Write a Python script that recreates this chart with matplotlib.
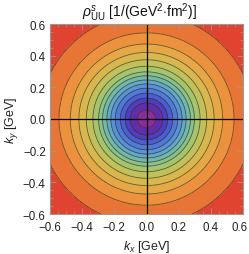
import numpy as np
import matplotlib
matplotlib.use("Agg")
import matplotlib.pyplot as plt
import matplotlib.transforms as mtransforms
from matplotlib.ticker import MultipleLocator

plt.rcParams['font.family'] = ['Liberation Sans', 'DejaVu Sans']
plt.rcParams['mathtext.fontset'] = 'custom'
plt.rcParams['mathtext.rm'] = 'Liberation Sans'
plt.rcParams['mathtext.it'] = 'Liberation Sans:italic'

# model parameters
peak = 1.0          # normalised density at k = 0
width = 0.322       # Gaussian width [GeV]
# contour levels (read from the ring radii)
levels = [0.0143, 0.0575, 0.115, 0.182, 0.259, 0.343, 0.425, 0.487,
          0.557, 0.623, 0.695, 0.774, 0.845, 0.906, 0.970]
band_colors = ['#E04430', '#E87436', '#EC923E', '#E6A846', '#D8B84E',
               '#C2C05A', '#A6C46C', '#8AC288', '#72BAA6', '#62AAC6',
               '#5694D6', '#4E7AD8', '#4A5ED0', '#4C40C0', '#602EAA',
               '#8C2C98']
ticks = [-0.6, -0.4, -0.2, 0.0, 0.2, 0.4, 0.6]
tick_labels = ['\u22120.6', '\u22120.4', '\u22120.2', '0.0', '0.2', '0.4', '0.6']

k = np.linspace(-0.6, 0.6, 401)
KX, KY = np.meshgrid(k, k)
rho = peak * np.exp(-(KX**2 + KY**2) / width**2)

fig = plt.figure(figsize=(2.49, 2.55), dpi=100)
ax = fig.add_axes([50/249, 1-215/255, 193/249, 190/255])
lv = [-1.0] + levels + [2.0]
ax.contourf(KX, KY, rho, levels=lv, colors=band_colors)
ax.contour(KX, KY, rho, levels=levels, colors='#3a3020', linewidths=0.6, alpha=0.7)
ax.axhline(0, color='black', lw=0.9)
ax.axvline(0, color='black', lw=0.9)
ax.set_xlim(-0.6, 0.6)
ax.set_ylim(-0.6, 0.6)
ax.set_xticks(ticks)
ax.set_xticklabels(tick_labels)
ax.set_yticks(ticks)
ax.set_yticklabels(tick_labels)
ax.xaxis.set_minor_locator(MultipleLocator(0.05))
ax.yaxis.set_minor_locator(MultipleLocator(0.05))
ax.tick_params(which='both', direction='in', top=True, right=True, color='#999999',
               labelsize=8.3, labelcolor='#222222')
ax.tick_params(axis='x', pad=5)
ax.tick_params(axis='y', pad=3)
ax.tick_params(which='major', length=4, width=0.6)
ax.tick_params(which='minor', length=2, width=0.5)
for s in ax.spines.values():
    s.set_color('#999999')
    s.set_linewidth(0.8)
# keep the last x tick label inside the picture
last = ax.get_xticklabels()[-1]
last.set_transform(last.get_transform() +
                   mtransforms.ScaledTranslation(-3/100, 0, fig.dpi_scale_trans))
ax.set_xlabel(r'$k_x$ [GeV]', fontsize=9, color='#222222', labelpad=4)
ax.set_ylabel(r'$k_y$ [GeV]', fontsize=9, color='#222222', labelpad=2)
ax.text(0.464, 1.0 + 12/190, r'$\rho^{s}_{\mathrm{UU}}$ [1/(GeV$^2$$\cdot$fm$^2$)]',
        transform=ax.transAxes, ha='center', va='center', fontsize=10, color='#111111')
fig.savefig('out.png', dpi=100)
